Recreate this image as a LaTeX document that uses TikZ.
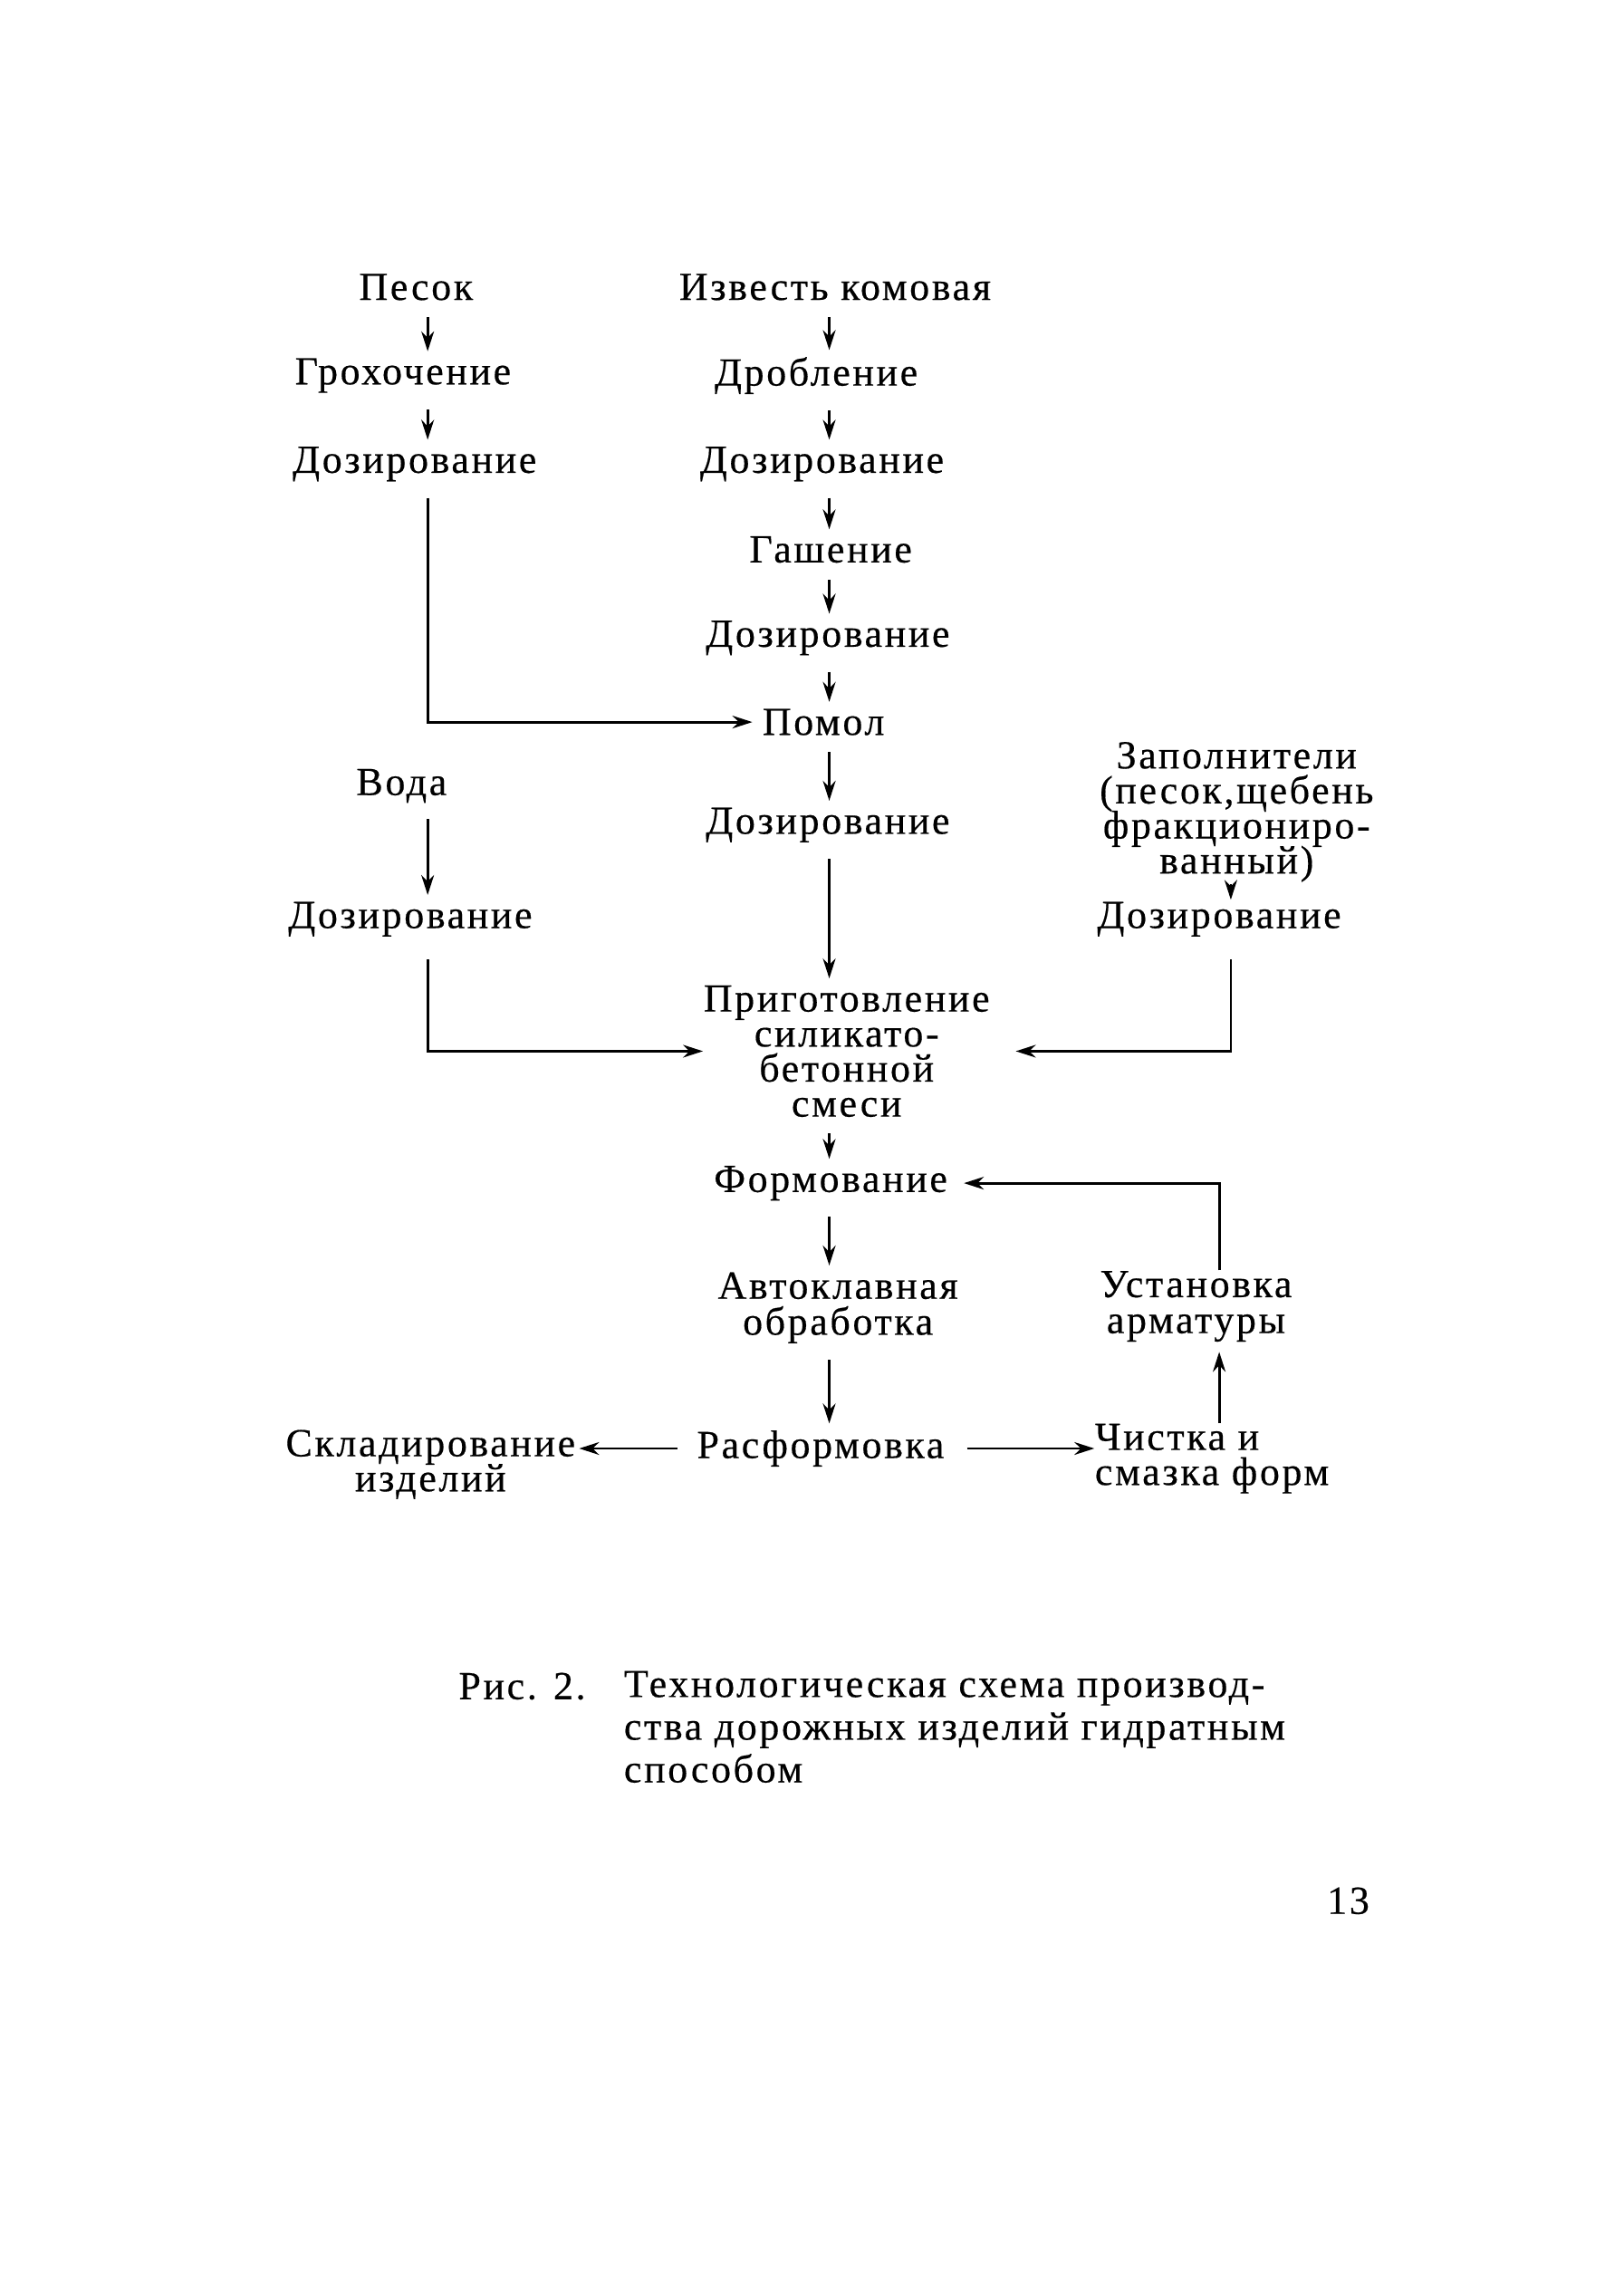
\documentclass[tikz,border=0pt]{standalone}
\usepackage{fontspec}
\setmainfont{Liberation Serif}[LetterSpace=6,FakeBold=0.4]
\usetikzlibrary{arrows.meta}
\tikzset{
  font={\fontsize{12.5pt}{12pt}\selectfont},
  flow/.style={black,line width=0.8pt,shorten <=5pt,shorten >=2pt,-{Stealth[length=2.2mm,width=1.4mm]}},
  lines/.style={align=center,font={\fontsize{12.5pt}{#1}\selectfont\lineskiplimit=-2pt}}}

\begin{document}
\begin{tikzpicture}[x=0.0160cm,y=0.0160cm]
\tikzstyle{every node}+=[inner sep=0pt]
\useasboundingbox[fill=white] (0,0) rectangle (17.93cm,-25.07cm);
\coordinate (cL) at (295,0);
\coordinate (cM) at (572,0);
\coordinate (cR) at (849,0);
\coordinate (cU) at (841,0);
\node (pesok) at (287,-198) {Песок};
\node (groh) at (278,-259) {Грохочение};
\node (dozP) at (286,-320) {Дозирование};
\node (izv) at (576,-198) {Известь комовая};
\node (drob) at (563,-259) {Дробление};
\node (dozI1) at (567,-320) {Дозирование};
\node (gash) at (573,-379) {Гашение};
\node (dozI2) at (571,-440) {Дозирование};
\node (pomol) at (568,-498) {Помол};
\node (dozM) at (571,-569) {Дозирование};
\node (voda) at (277,-542) {Вода};
\node (dozV) at (283,-634) {Дозирование};
\node [lines=11pt] (zapol) at (853,-560) {Заполнители\\(песок,щебень\\фракциониро-\\ванный)};
\node (dozZ) at (841,-634) {Дозирование};
\node [lines=11pt] (prig) at (584,-725) {Приготовление\\силикато-\\бетонной\\смеси};
\node (form) at (573,-816) {Формование};
\node [lines=11.3pt] (avto) at (578,-902) {Автоклавная\\обработка};
\node [lines=11.3pt] (ustan) at (825,-901) {Установка\\арматуры};
\node (rasf) at (566,-999) {Расформовка};
\node [lines=11pt,align=left] (chist) at (836,-1006) {Чистка и\\смазка форм};
\node [lines=11pt] (sklad) at (297,-1010) {Складирование\\изделий};
\node [anchor=west] (fignum) at (316,-1163) {Рис. 2.};
\node [anchor=north west,lines=13.4pt,align=left] (figtext) at (430,-1152) {Технологическая схема производ-\\ства дорожных изделий гидратным\\способом};
\node (page) at (930,-1311) {13};
\foreach \a/\b in {pesok/groh,groh/dozP,voda/dozV}
  \draw [flow] (\a.south -| cL) -- (\b.north -| cL);
\foreach \a/\b in {izv/drob,drob/dozI1,dozI1/gash,gash/dozI2,dozI2/pomol,pomol/dozM,dozM/prig,prig/form,form/avto,avto/rasf}
  \draw [flow] (\a.south -| cM) -- (\b.north -| cM);
\draw [flow,shorten <=0.5pt,shorten >=0.5pt] (zapol.south -| cR) -- (dozZ.north -| cR);
\draw [flow,shorten >=3pt] (dozP.south -| cL) |- (pomol.west);
\draw [flow,shorten <=7pt,shorten >=0pt] (dozV.south -| cL) |- (prig.west);
\draw [flow,shorten <=7pt,shorten >=8pt] (dozZ.south -| cR) |- (prig.east);
\draw [flow,shorten <=0pt,shorten >=5pt] (ustan.north -| cU) |- (form.east);
\draw [flow,shorten <=0pt,shorten >=3pt] (chist.north -| cU) -- (ustan.south -| cU);
\draw [flow,shorten <=7pt,shorten >=0pt] (rasf.east) -- (rasf.east -| chist.west);
\draw [flow,shorten <=6pt,shorten >=1pt] (rasf.west) -- (rasf.west -| sklad.east);
\end{tikzpicture}
\end{document}
